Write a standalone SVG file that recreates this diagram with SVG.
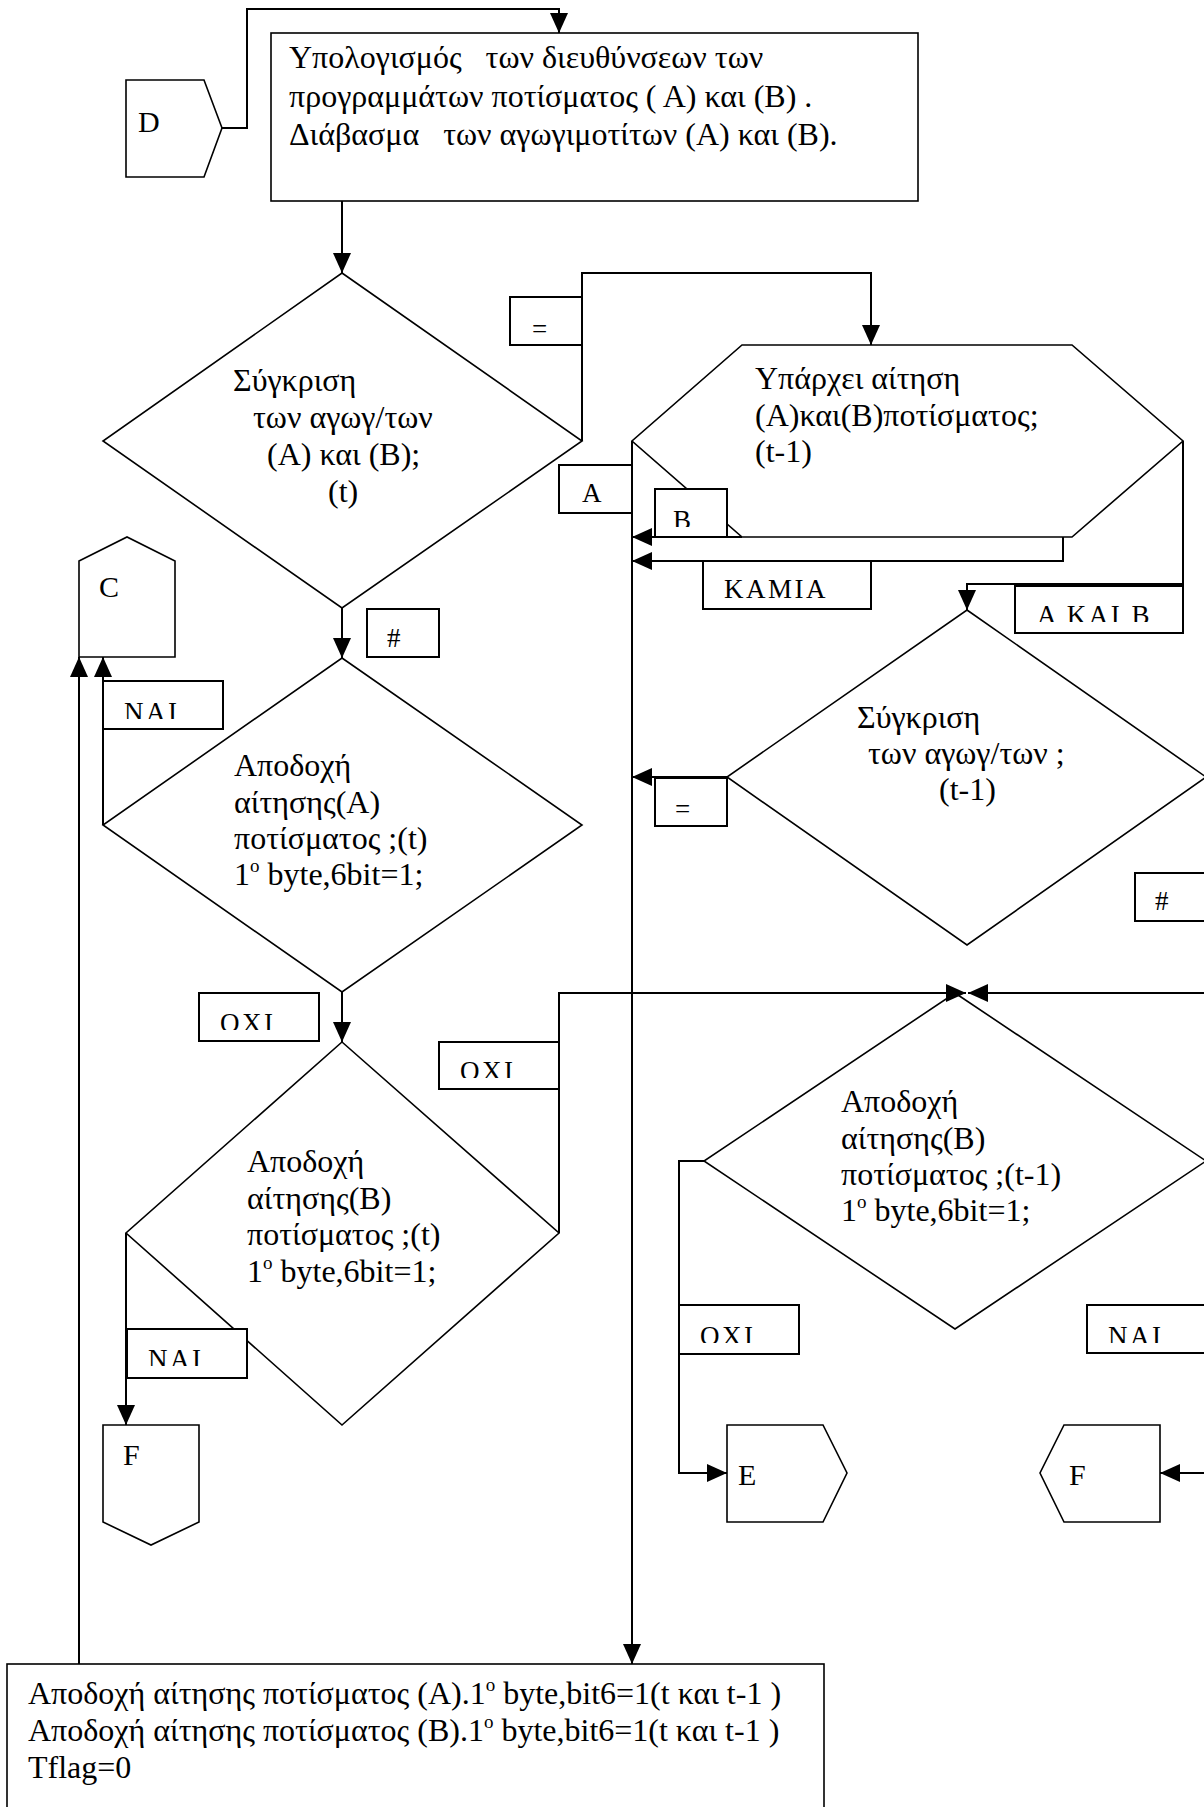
<svg xmlns="http://www.w3.org/2000/svg" width="1204" height="1807" viewBox="0 0 1204 1807">
  <style>
    .shape { fill: #fff; stroke: #000; stroke-width: 1.6; }
    .wire { fill: none; stroke: #000; stroke-width: 2; }
    .tag { fill: #fff; stroke: #000; stroke-width: 2; }
    text { font-family: "Liberation Serif", "Times New Roman", serif; font-size: 32px; fill: #000; white-space: pre; }
    .mark { font-size: 30px; }
    .lbl { font-size: 27px; }
    .caps { font-size: 27px; letter-spacing: 2.5px; }
    .sup { font-size: 19px; }
  </style>
  <defs>
    <marker id="arrow" viewBox="0 0 20 18" refX="20" refY="9" markerWidth="20" markerHeight="18" markerUnits="userSpaceOnUse" orient="auto">
      <path d="M0,0 L20,9 L0,18 z" fill="#000"/>
    </marker>
    <!-- label frames crop the lower part of their text -->
    <clipPath id="clipNaiTop" clipPathUnits="userSpaceOnUse"><rect x="103" y="681" width="120" height="38"/></clipPath>
    <clipPath id="clipOxiLeft" clipPathUnits="userSpaceOnUse"><rect x="199" y="993" width="120" height="37"/></clipPath>
    <clipPath id="clipOxiMid" clipPathUnits="userSpaceOnUse"><rect x="439" y="1042" width="120" height="36"/></clipPath>
    <clipPath id="clipNaiLow" clipPathUnits="userSpaceOnUse"><rect x="127" y="1329" width="120" height="37"/></clipPath>
    <clipPath id="clipOxiRight" clipPathUnits="userSpaceOnUse"><rect x="679" y="1305" width="120" height="38"/></clipPath>
    <clipPath id="clipNaiRight" clipPathUnits="userSpaceOnUse"><rect x="1087" y="1305" width="130" height="38"/></clipPath>
    <clipPath id="clipB" clipPathUnits="userSpaceOnUse"><rect x="655" y="489" width="72" height="38"/></clipPath>
    <clipPath id="clipAB" clipPathUnits="userSpaceOnUse"><rect x="1015" y="586" width="168" height="36"/></clipPath>
  </defs>

  <rect x="0" y="0" width="1204" height="1807" fill="#fff"/>

  <!-- off-page connector D -->
  <g id="node-D">
    <polygon class="shape" points="126,80 204,80 222,128 204,177 126,177"/>
    <text class="mark" x="138" y="132">D</text>
  </g>

  <!-- address calculation -->
  <g id="node-calc">
    <rect class="shape" x="271" y="33" width="647" height="168"/>
    <text x="289" y="68">Υπολογισμός   των διευθύνσεων των</text>
    <text x="289" y="107">προγραμμάτων ποτίσματος ( Α) και (Β) .</text>
    <text x="289" y="145">Διάβασμα   των αγωγιμοτίτων (Α) και (Β).</text>
  </g>

  <g id="node-cmp-t">
    <polygon class="shape" points="342,273 582,441 342,608 103,441"/>
    <text x="233" y="391">Σύγκριση</text>
    <text x="253" y="428">των αγωγ/των</text>
    <text x="267" y="465">(Α) και (Β);</text>
    <text x="328" y="502">(t)</text>
  </g>

  <g id="node-request">
    <polygon class="shape" points="742,345 1072,345 1183,441 1072,537 742,537 632,441"/>
    <text x="755" y="389">Υπάρχει αίτηση</text>
    <text x="755" y="426">(Α)και(Β)ποτίσματος;</text>
    <text x="755" y="462">(t-1)</text>
  </g>

  <g id="node-C">
    <polygon class="shape" points="79,561 127,537 175,561 175,657 79,657"/>
    <text class="mark" x="99" y="597">C</text>
  </g>

  <g id="node-accA-t">
    <polygon class="shape" points="342,658 582,825 342,992 103,825"/>
    <text x="234" y="776">Αποδοχή</text>
    <text x="234" y="813">αίτησης(Α)</text>
    <text x="234" y="849">ποτίσματος ;(t)</text>
    <text x="234" y="885">1<tspan class="sup" dy="-13">o</tspan><tspan dy="13"> byte,6bit=1;</tspan></text>
  </g>

  <g id="node-cmp-t1">
    <polygon class="shape" points="967,610 1206,777 967,945 727,777"/>
    <text x="857" y="728">Σύγκριση</text>
    <text x="868" y="764">των αγωγ/των ;</text>
    <text x="939" y="800">(t-1)</text>
  </g>

  <g id="node-accB-t">
    <polygon class="shape" points="342,1042 559,1233 342,1425 126,1233"/>
    <text x="247" y="1172">Αποδοχή</text>
    <text x="247" y="1209">αίτησης(Β)</text>
    <text x="247" y="1245">ποτίσματος ;(t)</text>
    <text x="247" y="1282">1<tspan class="sup" dy="-13">o</tspan><tspan dy="13"> byte,6bit=1;</tspan></text>
  </g>

  <g id="node-accB-t1">
    <polygon class="shape" points="955,993 1206,1161 955,1329 704,1161"/>
    <text x="841" y="1112">Αποδοχή</text>
    <text x="841" y="1149">αίτησης(Β)</text>
    <text x="841" y="1185">ποτίσματος ;(t-1)</text>
    <text x="841" y="1221">1<tspan class="sup" dy="-13">o</tspan><tspan dy="13"> byte,6bit=1;</tspan></text>
  </g>

  <g id="node-F-left">
    <polygon class="shape" points="103,1425 199,1425 199,1522 151,1545 103,1522"/>
    <text class="mark" x="123" y="1465">F</text>
  </g>

  <g id="node-E">
    <polygon class="shape" points="727,1425 823,1425 847,1473 823,1522 727,1522"/>
    <text class="mark" x="738" y="1485">E</text>
  </g>

  <g id="node-F-right">
    <polygon class="shape" points="1064,1425 1160,1425 1160,1522 1064,1522 1040,1473"/>
    <text class="mark" x="1069" y="1485">F</text>
  </g>

  <g id="node-accept-both">
    <rect class="shape" x="7" y="1664" width="817" height="170"/>
    <text x="28" y="1704">Αποδοχή αίτησης ποτίσματος (Α).1<tspan class="sup" dy="-13">o</tspan><tspan dy="13"> byte,bit6=1(t και t-1 )</tspan></text>
    <text x="28" y="1741">Αποδοχή αίτησης ποτίσματος (Β).1<tspan class="sup" dy="-13">o</tspan><tspan dy="13"> byte,bit6=1(t και t-1 )</tspan></text>
    <text x="28" y="1778">Tflag=0</text>
  </g>

  <g id="connectors">
    <path class="wire" d="M222,128 H247 V9 H559 V33" marker-end="url(#arrow)"/>
    <path class="wire" d="M342,201 V273" marker-end="url(#arrow)"/>
    <path class="wire" d="M582,441 V273 H871 V345" marker-end="url(#arrow)"/>
    <path class="wire" d="M342,608 V658" marker-end="url(#arrow)"/>
    <path class="wire" d="M103,825 V657" marker-end="url(#arrow)"/>
    <path class="wire" d="M342,992 V1042" marker-end="url(#arrow)"/>
    <path class="wire" d="M559,1233 V993 H966" marker-end="url(#arrow)"/>
    <path class="wire" d="M126,1233 V1425" marker-end="url(#arrow)"/>
    <path class="wire" d="M79,1664 V657" marker-end="url(#arrow)"/>
    <path class="wire" d="M632,441 V1664" marker-end="url(#arrow)"/>
    <path class="wire" d="M742,537 H632" marker-end="url(#arrow)"/>
    <path class="wire" d="M1063,537 V561 H632" marker-end="url(#arrow)"/>
    <path class="wire" d="M1183,441 V584 H967 V610" marker-end="url(#arrow)"/>
    <path class="wire" d="M727,777 H632" marker-end="url(#arrow)"/>
    <path class="wire" d="M1207,777 V993 H968" marker-end="url(#arrow)"/>
    <path class="wire" d="M1207,1161 V1473 H1160" marker-end="url(#arrow)"/>
    <path class="wire" d="M704,1161 H679 V1473 H727" marker-end="url(#arrow)"/>
  </g>

  <g id="labels">
    <rect class="tag" x="510" y="297" width="72" height="48"/>
    <text class="lbl" x="532" y="338">=</text>

    <rect class="tag" x="559" y="465" width="73" height="48"/>
    <text class="lbl" x="582" y="502">Α</text>

    <rect class="tag" x="655" y="489" width="72" height="48"/>
    <text class="lbl" x="673" y="529" clip-path="url(#clipB)">Β</text>

    <rect class="tag" x="703" y="561" width="168" height="48"/>
    <text class="caps" x="724" y="598">ΚΑΜΙΑ</text>

    <rect class="tag" x="1015" y="586" width="168" height="47"/>
    <text class="caps" x="1037" y="624" clip-path="url(#clipAB)">Α ΚΑΙ Β</text>

    <rect class="tag" x="367" y="609" width="72" height="48"/>
    <text class="lbl" x="387" y="647">#</text>

    <rect class="tag" x="103" y="681" width="120" height="48"/>
    <text class="caps" x="124" y="721" clip-path="url(#clipNaiTop)">ΝΑΙ</text>

    <rect class="tag" x="655" y="778" width="72" height="48"/>
    <text class="lbl" x="675" y="818">=</text>

    <rect class="tag" x="1135" y="873" width="80" height="48"/>
    <text class="lbl" x="1155" y="910">#</text>

    <rect class="tag" x="199" y="993" width="120" height="48"/>
    <text class="caps" x="220" y="1032" clip-path="url(#clipOxiLeft)">ΟΧΙ</text>

    <rect class="tag" x="439" y="1042" width="120" height="47"/>
    <text class="caps" x="460" y="1080" clip-path="url(#clipOxiMid)">ΟΧΙ</text>

    <rect class="tag" x="127" y="1329" width="120" height="49"/>
    <text class="caps" x="148" y="1368" clip-path="url(#clipNaiLow)">ΝΑΙ</text>

    <rect class="tag" x="679" y="1305" width="120" height="49"/>
    <text class="caps" x="700" y="1345" clip-path="url(#clipOxiRight)">ΟΧΙ</text>

    <rect class="tag" x="1087" y="1305" width="130" height="48"/>
    <text class="caps" x="1108" y="1345" clip-path="url(#clipNaiRight)">ΝΑΙ</text>
  </g>
</svg>
